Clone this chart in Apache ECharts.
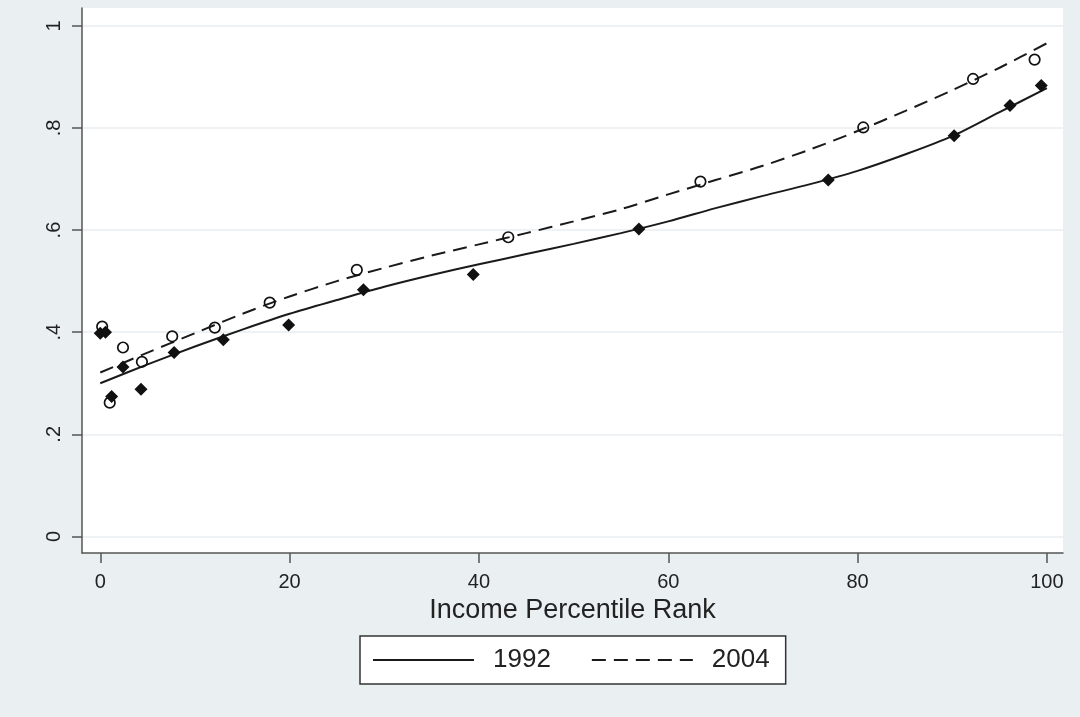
<!DOCTYPE html>
<html>
<head>
<meta charset="utf-8">
<title>Income Percentile Rank</title>
<script src="https://cdn.jsdelivr.net/npm/echarts@6/dist/echarts.min.js"></script>
<style>
  html, body { margin: 0; padding: 0; background: #eaf0f2; }
  #chart { width: 1080px; height: 717px; }
</style>
</head>
<body>
<div id="chart"></div>
<script>
// Percentile rank of each income group and its observed share, 1992 and 2004
const points1992 = [
  [0.0, 0.398], [0.55, 0.400], [1.2, 0.274], [2.4, 0.332], [4.3, 0.288],
  [7.8, 0.360], [13.0, 0.385], [19.9, 0.414], [27.8, 0.483], [39.4, 0.513],
  [56.9, 0.602], [76.9, 0.698], [90.2, 0.785], [96.1, 0.844], [99.4, 0.883]
];
const points2004 = [
  [0.2, 0.411], [1.0, 0.262], [2.4, 0.370], [4.4, 0.342], [7.6, 0.392],
  [12.1, 0.409], [17.9, 0.458], [27.1, 0.522], [43.1, 0.586], [63.4, 0.695],
  [80.6, 0.801], [92.2, 0.896], [98.7, 0.934]
];

// Fitted curves, sampled every 5 percentile points
const fitX = [0, 5, 10, 15, 20, 25, 30, 35, 40, 45, 50, 55, 60, 65, 70, 75, 80, 85, 90, 95, 100];
const fit1992 = [0.300, 0.337, 0.372, 0.405, 0.436, 0.463, 0.489, 0.512, 0.533, 0.553, 0.573,
                 0.594, 0.617, 0.643, 0.667, 0.690, 0.716, 0.748, 0.784, 0.831, 0.878];
const fit2004 = [0.321, 0.360, 0.398, 0.436, 0.470, 0.500, 0.526, 0.550, 0.572, 0.594, 0.617,
                 0.641, 0.670, 0.698, 0.726, 0.758, 0.794, 0.833, 0.874, 0.918, 0.966];

const xTicks = [0, 20, 40, 60, 80, 100];
const yTicks = [0, 0.2, 0.4, 0.6, 0.8, 1];
const yTickLabels = ['0', '.2', '.4', '.6', '.8', '1'];
const xTitle = 'Income Percentile Rank';
const legendNames = ['1992', '2004'];

const FONT = '"Liberation Sans", Arial, sans-serif';
const INK = '#1a1a1a';

const pair = (xs, ys) => xs.map((x, i) => [x, ys[i]]);

const chart = echarts.init(document.getElementById('chart'), null, { renderer: 'canvas' });

chart.setOption({
  animation: false,
  backgroundColor: '#eaf0f2',
  textStyle: { fontFamily: FONT },
  grid: {
    left: 82, top: 8, right: 17, bottom: 164,
    show: true, backgroundColor: '#ffffff', borderWidth: 0
  },
  xAxis: {
    type: 'value',
    min: -1.93, max: 101.7,
    name: xTitle,
    nameLocation: 'middle',
    nameGap: 33,
    nameTextStyle: { fontSize: 27, color: '#222', fontFamily: FONT },
    axisLine: { show: true, onZero: false, lineStyle: { color: '#555', width: 1.5 } },
    axisTick: { show: true, inside: false, length: 10, customValues: xTicks,
                lineStyle: { color: '#555', width: 1.5 } },
    axisLabel: { customValues: xTicks, margin: 19, fontSize: 20, color: '#222', fontFamily: FONT },
    splitLine: { show: false }
  },
  yAxis: {
    type: 'value',
    min: -0.0325, max: 1.035,
    axisLine: { show: true, onZero: false, lineStyle: { color: '#555', width: 1.5 } },
    axisTick: { show: true, inside: false, length: 10, customValues: yTicks,
                lineStyle: { color: '#555', width: 1.5 } },
    axisLabel: {
      customValues: yTicks, rotate: 90, margin: 18, fontSize: 20, color: '#222', fontFamily: FONT,
      formatter: v => {
        const i = yTicks.findIndex(t => Math.abs(t - v) < 1e-6);
        return i >= 0 ? yTickLabels[i] : '';
      }
    },
    splitLine: { show: true, lineStyle: { color: '#e8eef1', width: 1.5 } }
  },
  legend: {
    data: legendNames,
    left: 360, top: 636,
    orient: 'horizontal',
    backgroundColor: '#ffffff',
    borderColor: '#333',
    borderWidth: 1.5,
    borderRadius: 0,
    padding: [11, 16, 11, 12],
    itemWidth: 101,
    itemHeight: 24,
    itemGap: 40,
    selectedMode: false,
    itemStyle: { opacity: 0, borderWidth: 0 },
    textStyle: { fontSize: 26, color: '#222', fontFamily: FONT, padding: [0, 0, 0, 14] }
  },
  series: [
    {
      name: legendNames[0],
      type: 'line',
      data: pair(fitX, fit1992),
      smooth: 0.3,
      symbol: 'none',
      lineStyle: { color: INK, width: 2, type: 'solid' },
      itemStyle: { color: INK },
      z: 3
    },
    {
      name: legendNames[1],
      type: 'line',
      data: pair(fitX, fit2004),
      smooth: 0.3,
      symbol: 'none',
      lineStyle: { color: INK, width: 2, type: [14, 8] },
      itemStyle: { color: INK },
      z: 3
    },
    {
      name: '1992 groups',
      type: 'scatter',
      data: points1992,
      symbol: 'diamond',
      symbolSize: 13,
      itemStyle: { color: '#111', opacity: 1 },
      z: 5
    },
    {
      name: '2004 groups',
      type: 'scatter',
      data: points2004,
      symbol: 'circle',
      symbolSize: 10.5,
      itemStyle: { color: 'rgba(0,0,0,0)', borderColor: '#111', borderWidth: 1.7, opacity: 1 },
      z: 5
    }
  ]
});
</script>
</body>
</html>
